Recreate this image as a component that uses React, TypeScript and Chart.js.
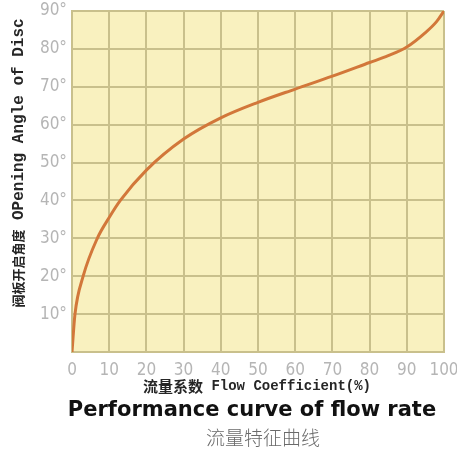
import React, { useEffect, useRef } from 'react';
import { Chart, registerables } from 'chart.js';

Chart.register(...registerables);

const flowCoefficient = [0, 0.8, 3, 6.8, 10, 13, 20, 30, 40, 50, 60, 70, 80, 85, 90, 95, 98, 100];
const openingAngle = [0, 10, 20, 30, 35.5, 40, 48, 56.2, 61.8, 65.9, 69.4, 72.8, 76.4, 78.2, 80.5, 84.3, 87.2, 90];
const xTickValues = [0, 10, 20, 30, 40, 50, 60, 70, 80, 90, 100];
const yTickValues = [10, 20, 30, 40, 50, 60, 70, 80, 90];

const yTitleCn = '阀板开启角度';
const yTitleEn = ' OPening Angle of Disc';
const xTitleCn = '流量系数';
const xTitleEn = ' Flow Coefficient(%)';
const mainTitle = 'Performance curve of flow rate';
const subTitle = '流量特征曲线';

const tickFont = "'Liberation Sans Narrow', 'DejaVu Sans Condensed', 'Liberation Sans', sans-serif";

const decorPlugin = {
  id: 'decor',
  beforeDraw(chart: any) {
    const { ctx, chartArea } = chart;
    ctx.save();
    ctx.fillStyle = '#f9f1bf';
    ctx.fillRect(chartArea.left, chartArea.top, chartArea.right - chartArea.left, chartArea.bottom - chartArea.top);
    ctx.restore();
  },
  afterDraw(chart: any) {
    const { ctx } = chart;
    ctx.save();
    ctx.translate(18, 163);
    ctx.rotate(-Math.PI / 2);
    ctx.fillStyle = '#262626';
    ctx.textBaseline = 'middle';
    ctx.textAlign = 'left';
    const f1 = "bold 13px 'Noto Sans CJK SC', sans-serif";
    const f2 = "bold 16px 'Liberation Mono', 'DejaVu Sans Mono', monospace";
    ctx.font = f1;
    const w1 = ctx.measureText(yTitleCn).width;
    ctx.font = f2;
    const w2 = ctx.measureText(yTitleEn).width;
    const start = -(w1 + w2) / 2;
    ctx.font = f1;
    ctx.fillText(yTitleCn, start, 0);
    ctx.font = f2;
    ctx.fillText(yTitleEn, start + w1, 1);
    ctx.restore();

    ctx.save();
    ctx.fillStyle = '#262626';
    ctx.textBaseline = 'middle';
    ctx.textAlign = 'left';
    const g1 = "bold 15px 'Noto Sans CJK SC', sans-serif";
    const g2 = "bold 14px 'Liberation Mono', 'DejaVu Sans Mono', monospace";
    ctx.font = g1;
    const v1 = ctx.measureText(xTitleCn).width;
    ctx.font = g2;
    const v2 = ctx.measureText(xTitleEn).width;
    const sx = 257 - (v1 + v2) / 2;
    ctx.font = g1;
    ctx.fillText(xTitleCn, sx, 386);
    ctx.font = g2;
    ctx.fillText(xTitleEn, sx + v1, 386);

    ctx.textAlign = 'center';
    ctx.fillStyle = '#111111';
    ctx.font = "bold 21px 'DejaVu Sans', sans-serif";
    ctx.fillText(mainTitle, 252, 411);

    ctx.fillStyle = '#6a6a6a';
    ctx.font = "300 19px 'Noto Sans CJK SC', sans-serif";
    ctx.fillText(subTitle, 263, 438);
    ctx.restore();
  },
};

export default function App() {
  const canvasRef = useRef<HTMLCanvasElement | null>(null);

  useEffect(() => {
    if (!canvasRef.current) return;
    const chart = new Chart(canvasRef.current, {
      type: 'line',
      data: {
        datasets: [
          {
            data: flowCoefficient.map((x, i) => ({ x, y: openingAngle[i] })),
            borderColor: '#d2773a',
            borderWidth: 3,
            pointRadius: 0,
            fill: false,
            cubicInterpolationMode: 'monotone',
          },
        ],
      },
      options: {
        animation: false,
        responsive: false,
        layout: { padding: { left: 0, right: 13, top: 11, bottom: 0 } },
        plugins: {
          legend: { display: false },
          tooltip: { enabled: false },
        },
        scales: {
          x: {
            type: 'linear',
            min: 0,
            max: 100,
            afterBuildTicks: (scale: any) => {
              scale.ticks = xTickValues.map((v) => ({ value: v }));
            },
            afterFit: (scale: any) => {
              scale.height = 100;
              scale.paddingLeft = 0;
              scale.paddingRight = 0;
            },
            grid: { color: '#c9c08c', lineWidth: 2, drawTicks: false },
            border: { color: '#c9c08c', width: 2 },
            ticks: {
              padding: 8,
              color: '#b5b5b5',
              font: { family: tickFont, size: 17 },
              maxRotation: 0,
              autoSkip: false,
            },
          },
          y: {
            type: 'linear',
            min: 0,
            max: 90,
            afterBuildTicks: (scale: any) => {
              scale.ticks = [0, ...yTickValues].map((v) => ({ value: v }));
            },
            afterFit: (scale: any) => {
              scale.width = 72;
              scale.paddingTop = 0;
              scale.paddingBottom = 0;
            },
            grid: { color: '#c9c08c', lineWidth: 2, drawTicks: false },
            border: { color: '#c9c08c', width: 2 },
            ticks: {
              padding: 5,
              color: '#b5b5b5',
              font: { family: tickFont, size: 17 },
              autoSkip: false,
              callback: (v: any) => (v === 0 ? '' : v + '°'),
            },
          },
        },
      },
      plugins: [decorPlugin],
    } as any);
    return () => chart.destroy();
  }, []);

  return (
    <div style={{ position: 'fixed', left: 0, top: 0, width: 457, height: 452, background: '#ffffff' }}>
      <canvas ref={canvasRef} width={457} height={452} style={{ width: 457, height: 452 }} />
    </div>
  );
}
